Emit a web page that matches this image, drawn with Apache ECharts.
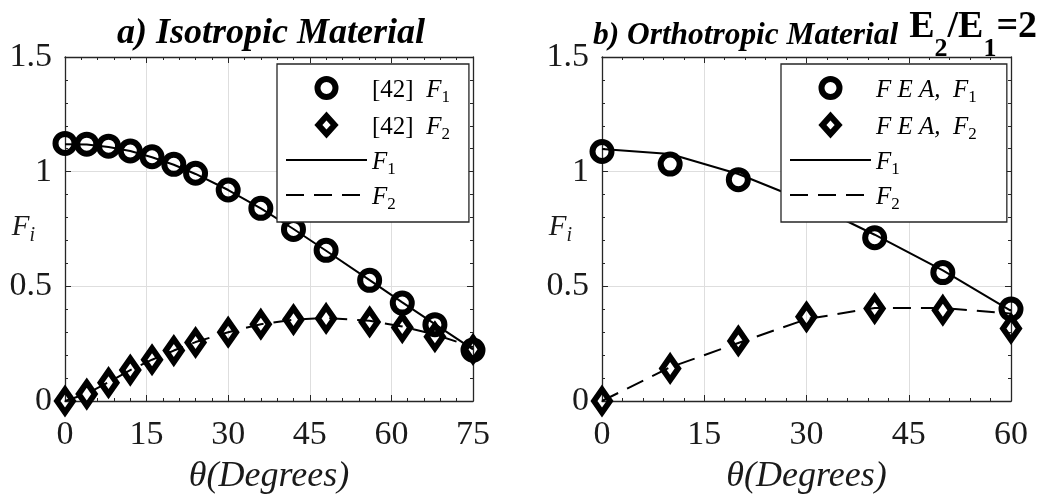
<!DOCTYPE html>
<html><head><meta charset="utf-8">
<script src="https://cdn.jsdelivr.net/npm/echarts@6/dist/echarts.min.js"></script>
<style>html,body{margin:0;padding:0;background:#fff}#c{width:1042px;height:497px}</style>
</head><body><div id="c"></div>
<script>
// ---- data (panel a: isotropic) ----
const xA = [0, 4, 8, 12, 16, 20, 24, 30, 36, 42, 48, 56, 62, 68, 75];
const aRefF1 = [1.123, 1.12, 1.111, 1.09, 1.065, 1.032, 0.993, 0.92, 0.84, 0.748, 0.657, 0.526, 0.427, 0.333, 0.222];
const aRefF2 = [0, 0.03, 0.08, 0.135, 0.18, 0.22, 0.255, 0.30, 0.335, 0.355, 0.36, 0.345, 0.32, 0.28, 0.225];
const aLineF1 = [1.12, 1.118, 1.108, 1.09, 1.063, 1.03, 0.99, 0.92, 0.84, 0.75, 0.655, 0.527, 0.43, 0.335, 0.225];
const aLineF2 = [0, 0.032, 0.082, 0.135, 0.18, 0.22, 0.257, 0.30, 0.335, 0.355, 0.362, 0.35, 0.325, 0.29, 0.235];
// ---- data (panel b: orthotropic) ----
const xB = [0, 10, 20, 30, 40, 50, 60];
const bFeaF1 = [1.088, 1.033, 0.965, 0.85, 0.712, 0.56, 0.401];
const bFeaF2 = [0, 0.142, 0.262, 0.367, 0.403, 0.396, 0.316];
const bLineF1 = [1.099, 1.077, 0.99, 0.87, 0.725, 0.57, 0.393];
const bLineF2 = [0, 0.147, 0.253, 0.357, 0.406, 0.406, 0.381];
// ---- axes ----
const xMaxA = 75, xMaxB = 60, xStep = 15;
const yMin = 0, yMax = 1.5, yStep = 0.5;

const pairs = (xs, ys) => xs.map((x, i) => [x, ys[i]]);
const SERIF = 'Liberation Serif';
const AX = '#262626';
const LEG_DIAMOND = 'path://M0,-10L9,0L0,10L-9,0Z';
const legendLabels = {
  aR1: '{r|[42]  }{i|F}{s|1}', aR2: '{r|[42]  }{i|F}{s|2}', aL1: '{i|F}{s|1}', aL2: '{i|F}{s|2}',
  bR1: '{i|F E A,  F}{s|1}', bR2: '{i|F E A,  F}{s|2}', bL1: '{i|F}{s|1}', bL2: '{i|F}{s|2}'
};
const legRich = {
  r: {fontFamily: SERIF, fontSize: 25, color: '#000', padding: [8, 0, 3, 0], verticalAlign: 'bottom'},
  i: {fontFamily: SERIF, fontSize: 25, fontStyle: 'italic', color: '#000', padding: [8, 0, 3, 0], verticalAlign: 'bottom'},
  s: {fontFamily: SERIF, fontSize: 17, color: '#000', verticalAlign: 'bottom'}
};
const hideSym = {color: 'rgba(0,0,0,0)', borderColor: 'rgba(0,0,0,0)', borderWidth: 0};
function legend(names, left, padRight) {
  return {
    data: [{name: names[0]}, {name: names[1], icon: LEG_DIAMOND},
           {name: names[2], itemStyle: hideSym}, {name: names[3], itemStyle: hideSym}],
    orient: 'vertical', left: left, top: 64, itemWidth: 81, itemHeight: 18, itemGap: 7, z: 10,
    padding: [12, padRight, 9, 8], backgroundColor: '#fff', borderColor: AX, borderWidth: 1.3, borderRadius: 0,
    formatter: n => legendLabels[n], selectedMode: false,
    itemStyle: {borderWidth: 6, opacity: 1}, lineStyle: {width: 2},
    textStyle: {rich: legRich}
  };
}
function xAx(gi, max) {
  return [{
    gridIndex: gi, type: 'value', min: 0, max: max, interval: xStep,
    axisLine: {show: true, onZero: false, lineStyle: {color: AX, width: 1.3}},
    axisTick: {inside: true, length: 6, lineStyle: {color: AX}},
    minorTick: {show: true, splitNumber: 5, length: 3, lineStyle: {color: AX}},
    splitLine: {show: true, lineStyle: {color: '#dedede', width: 1}},
    axisLabel: {fontFamily: SERIF, fontSize: 34, color: '#1a1a1a', margin: 17},
    name: 'θ(Degrees)', nameLocation: 'middle', nameGap: 58, nameMoveOverlap: false,
    nameTextStyle: {fontFamily: SERIF, fontStyle: 'italic', fontSize: 36, color: '#1a1a1a'}
  }, {
    gridIndex: gi, type: 'value', position: 'top', min: 0, max: max, interval: xStep,
    axisLine: {show: true, onZero: false, lineStyle: {color: AX, width: 1.3}},
    axisTick: {inside: true, length: 6, lineStyle: {color: AX}},
    minorTick: {show: true, splitNumber: 5, length: 3, lineStyle: {color: AX}},
    splitLine: {show: false}, axisLabel: {show: false}
  }];
}
function yAx(gi) {
  return [{
    gridIndex: gi, type: 'value', min: yMin, max: yMax, interval: yStep,
    axisLine: {show: true, onZero: false, lineStyle: {color: AX, width: 1.3}},
    axisTick: {inside: true, length: 6, lineStyle: {color: AX}},
    minorTick: {show: true, splitNumber: 5, length: 3, lineStyle: {color: AX}},
    splitLine: {show: true, lineStyle: {color: '#dedede', width: 1}},
    axisLabel: {fontFamily: SERIF, fontSize: 34, color: '#1a1a1a', margin: 13},
    name: '{i|F}{s|i}', nameLocation: 'middle', nameGap: 30, nameRotate: 0, nameMoveOverlap: false,
    nameTextStyle: {rich: {
      i: {fontFamily: SERIF, fontStyle: 'italic', fontSize: 29, color: '#1a1a1a', padding: [0, 0, 4, 0], verticalAlign: 'bottom'},
      s: {fontFamily: SERIF, fontStyle: 'italic', fontSize: 20, color: '#1a1a1a', verticalAlign: 'bottom'}}}
  }, {
    gridIndex: gi, type: 'value', position: 'right', min: yMin, max: yMax, interval: yStep,
    axisLine: {show: true, onZero: false, lineStyle: {color: AX, width: 1.3}},
    axisTick: {inside: true, length: 6, lineStyle: {color: AX}},
    minorTick: {show: true, splitNumber: 5, length: 3, lineStyle: {color: AX}},
    splitLine: {show: false}, axisLabel: {show: false}
  }];
}
function marks(name, gi, data, symbol, size) {
  return {name: name, type: 'scatter', xAxisIndex: gi * 2, yAxisIndex: gi * 2, data: data, clip: false,
    symbol: symbol, symbolSize: size, symbolKeepAspect: true, z: 3,
    itemStyle: {color: 'rgba(0,0,0,0)', borderColor: '#000', borderWidth: 6, opacity: 1}};
}
function curve(name, gi, data, dashed) {
  return {name: name, type: 'line', xAxisIndex: gi * 2, yAxisIndex: gi * 2, data: data, clip: false,
    symbol: 'none', showSymbol: false, z: 2,
    lineStyle: {color: '#000', width: 2, type: dashed ? [18, 10] : 'solid'},
    itemStyle: {color: '#000'}};
}
const titleRich = {
  a: {fontFamily: SERIF, fontStyle: 'italic', fontWeight: 'bold', fontSize: 36, color: '#000', padding: [0, 0, 11, 0], verticalAlign: 'bottom'},
  b: {fontFamily: SERIF, fontStyle: 'italic', fontWeight: 'bold', fontSize: 31.4, color: '#000', padding: [0, 0, 11, 0], verticalAlign: 'bottom'},
  e0: {fontFamily: SERIF, fontSize: 38, color: '#000', padding: [0, 0, 16, 11], verticalAlign: 'bottom'},
  e: {fontFamily: SERIF, fontSize: 38, color: '#000', padding: [0, 0, 16, 0], verticalAlign: 'bottom'},
  s: {fontFamily: SERIF, fontSize: 26, color: '#000', verticalAlign: 'bottom'}
};
const option = {
  backgroundColor: '#fff',
  animation: false,
  title: [
    {text: '{a|a) Isotropic Material}', left: 117, top: 16, padding: 0, textStyle: {rich: titleRich}},
    {text: '{b|b) Orthotropic Material}{e0|E}{s|2}{e|/E}{s|1}{e|=2}', left: 593, top: 8, padding: 0, textStyle: {rich: titleRich}}
  ],
  legend: [legend(['aR1', 'aR2', 'aL1', 'aL2'], 277, 19), legend(['bR1', 'bR2', 'bL1', 'bL2'], 781, 30)],
  grid: [
    {left: 65, top: 57, width: 408, height: 344, outerBoundsMode: 'none', containLabel: false},
    {left: 602, top: 57, width: 409, height: 344, outerBoundsMode: 'none', containLabel: false}
  ],
  xAxis: [...xAx(0, xMaxA), ...xAx(1, xMaxB)],
  yAxis: [...yAx(0), ...yAx(1)],
  series: [
    marks('aR1', 0, pairs(xA, aRefF1), 'circle', 19),
    marks('aR2', 0, pairs(xA, aRefF2), 'diamond', [16, 23]),
    curve('aL1', 0, pairs(xA, aLineF1), false),
    curve('aL2', 0, pairs(xA, aLineF2), true),
    marks('bR1', 1, pairs(xB, bFeaF1), 'circle', 19),
    marks('bR2', 1, pairs(xB, bFeaF2), 'diamond', [16, 23]),
    curve('bL1', 1, pairs(xB, bLineF1), false),
    curve('bL2', 1, pairs(xB, bLineF2), true)
  ]
};
const chart = echarts.init(document.getElementById('c'), null, {renderer: 'canvas'});
chart.setOption(option);
</script></body></html>
